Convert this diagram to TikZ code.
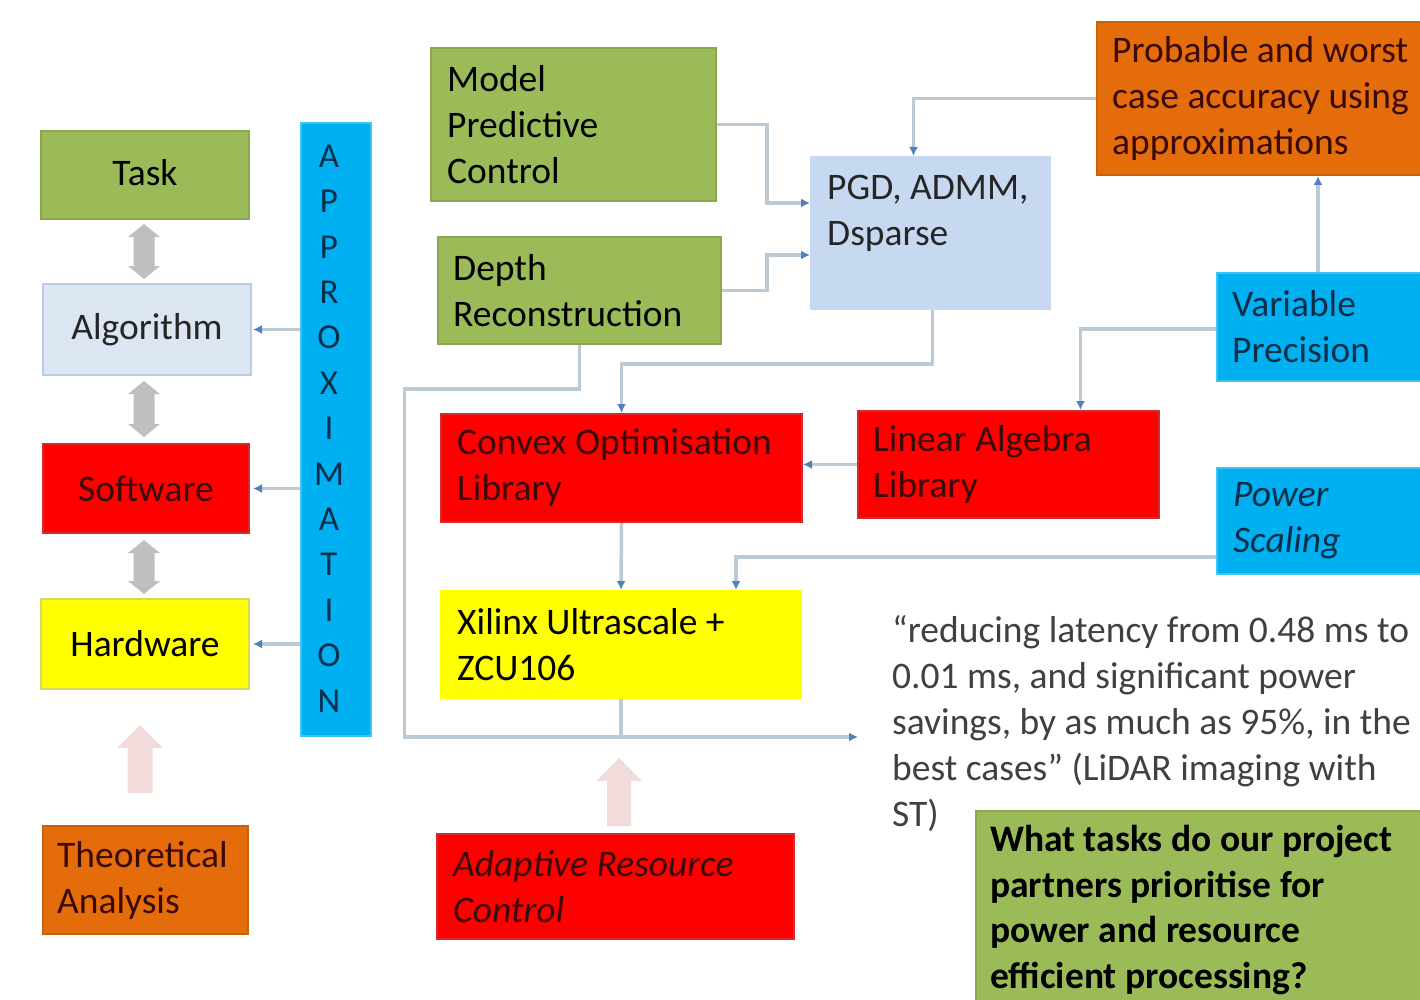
\documentclass[tikz,border=0pt]{standalone}
\usepackage{fontspec}
\setmainfont{Carlito}
\usetikzlibrary{arrows.meta,calc}
\definecolor{cgreen}{HTML}{9BBB59}
\definecolor{cgreenb}{HTML}{8AA653}
\definecolor{calg}{HTML}{DCE6F2}
\definecolor{calgb}{HTML}{B8CCE4}
\definecolor{cpgd}{HTML}{C6D9F1}
\definecolor{cred}{HTML}{FF0000}
\definecolor{credb}{HTML}{D22B2B}
\definecolor{cyel}{HTML}{FFFF00}
\definecolor{cyelb}{HTML}{D6D660}
\definecolor{corange}{HTML}{E46C0A}
\definecolor{corangeb}{HTML}{C9600E}
\definecolor{ccyan}{HTML}{00B0F0}
\definecolor{ccyanb}{HTML}{3FC3F2}
\definecolor{lineclr}{HTML}{BCCAD6}
\definecolor{tipblue}{HTML}{4F81BD}
\definecolor{cgrayarr}{HTML}{BFBFBF}
\definecolor{cpink}{HTML}{F2DCDB}
\definecolor{textgray}{HTML}{404040}
\definecolor{navy}{HTML}{0B2F4A}
\definecolor{darkred}{HTML}{3A0A0A}
\begin{document}
\begin{tikzpicture}[x=1pt,y=-1pt,
  font=\fontsize{37.5}{46}\selectfont,
  box/.style={draw, line width=2pt, inner sep=0pt, anchor=north west},
  txt/.style={inner sep=0pt, align=left, anchor=west},
  conn/.style={draw=lineclr, line width=3.5pt, -{Latex[length=9pt,width=9pt,color=tipblue]}},
  plainline/.style={draw=lineclr, line width=3.5pt}]
\clip (0,0) rectangle (1420,1000);
\fill[white] (0,0) rectangle (1420,1000);

% left column
\node[box, fill=cgreen, draw=cgreenb, minimum width=208pt, minimum height=88pt] (task) at (40,130) {};
\node[inner sep=0pt, yshift=2pt] (task-t) at (task.center) {Task};
\node[box, fill=calg, draw=calgb, minimum width=208pt, minimum height=91pt] (alg) at (42,283) {};
\node[inner sep=0pt, text=black!85] (alg-t) at (alg.center) {Algorithm};
\node[box, fill=cred, draw=credb, minimum width=206pt, minimum height=89pt] (soft) at (42,443) {};
\node[inner sep=0pt, text=darkred] (soft-t) at (soft.center) {Software};
\node[box, fill=cyel, draw=cyelb, minimum width=208pt, minimum height=90pt] (hard) at (40,598) {};
\node[inner sep=0pt] (hard-t) at (hard.center) {Hardware};
\node[box, fill=corange, draw=corangeb, minimum width=205pt, minimum height=108pt] (theo) at (42,825) {};
\node[txt, text=darkred] (theo-t) at ([xshift=15pt]theo.west) {Theoretical\\Analysis};

% gray double arrows
\foreach \ya/\yb in {224/279, 381/437, 540/594}{
  \fill[cgrayarr] (144,\ya) -- (160,{\ya+13}) -- (154.5,{\ya+13}) -- (154.5,{\yb-13}) -- (160,{\yb-13})
    -- (144,\yb) -- (128,{\yb-13}) -- (133.5,{\yb-13}) -- (133.5,{\ya+13}) -- (128,{\ya+13}) -- cycle;
}
% pink up arrows
\fill[cpink] (140,725) -- (163,748) -- (152.5,748) -- (152.5,793) -- (127.5,793) -- (127.5,748) -- (117,748) -- cycle;
\fill[cpink] (619,758) -- (642,781) -- (631,781) -- (631,826) -- (607,826) -- (607,781) -- (596,781) -- cycle;

% approximation bar
\node[box, fill=ccyan, draw=ccyanb, minimum width=70pt, minimum height=613pt] (approx) at (300,122) {};
\node[inner sep=0pt, align=center, text=navy, font=\fontsize{35}{45.4}\selectfont] (approx-t)
  at ([xshift=-7pt,yshift=1pt]approx.center) {A\\P\\P\\R\\O\\X\\I\\M\\A\\T\\I\\O\\N};

% middle / right boxes
\node[box, fill=cgreen, draw=cgreenb, minimum width=285pt, minimum height=153pt] (mpc) at (430,47) {};
\node[txt] (mpc-t) at ([xshift=17pt]mpc.west) {Model\\Predictive\\Control};
\node[box, fill=cgreen, draw=cgreenb, minimum width=283pt, minimum height=107pt] (depth) at (437,236) {};
\node[txt] (depth-t) at ([xshift=16pt]depth.west) {Depth\\Reconstruction};
\node[box, fill=cpgd, draw=cpgd, minimum width=239pt, minimum height=152pt] (pgd) at (810,156) {};
\node[inner sep=0pt, align=left, anchor=base west, text=black!85] (pgd-t) at ([xshift=17pt,yshift=-89pt]pgd.north west) {PGD, ADMM,\\Dsparse};
\node[box, fill=corange, draw=corangeb, minimum width=340pt, minimum height=153pt] (prob) at (1096,21) {};
\node[txt, text=darkred] (prob-t) at ([xshift=16pt]prob.west) {Probable and worst\\case accuracy using\\approximations};
\node[box, fill=ccyan, draw=ccyanb, minimum width=212pt, minimum height=108pt] (var) at (1216,272) {};
\node[txt, text=navy] (var-t) at ([xshift=16pt]var.west) {Variable\\Precision};
\node[box, fill=cred, draw=credb, minimum width=361pt, minimum height=108pt] (convex) at (440,413) {};
\node[txt, text=darkred] (convex-t) at ([xshift=17pt]convex.west) {Convex Optimisation\\Library};
\node[box, fill=cred, draw=credb, minimum width=301pt, minimum height=107pt] (linalg) at (857,410) {};
\node[txt, text=darkred] (linalg-t) at ([xshift=16pt]linalg.west) {Linear Algebra\\Library};
\node[box, fill=ccyan, draw=ccyanb, minimum width=212pt, minimum height=106pt] (power) at (1216,467) {};
\node[txt, text=navy, font=\fontsize{37.5}{46}\selectfont\itshape] (power-t) at ([xshift=17pt]power.west) {Power\\Scaling};
\node[box, fill=cyel, draw=cyel, minimum width=360pt, minimum height=107pt] (xil) at (440,590) {};
\node[txt] (xil-t) at ([xshift=17pt]xil.west) {Xilinx Ultrascale +\\ZCU106};
\node[box, fill=cred, draw=credb, minimum width=357pt, minimum height=105pt] (adapt) at (436,833) {};
\node[txt, text=darkred, font=\fontsize{37.5}{46}\selectfont\itshape] (adapt-t) at ([xshift=17pt]adapt.west) {Adaptive Resource\\Control};
\node[box, fill=cgreen, draw=cgreenb, minimum width=460pt, minimum height=198pt] (quest) at (975,810) {};
\node[txt, font=\fontsize{37.5}{45.5}\selectfont\bfseries] (quest-t) at ([xshift=15pt]quest.west) {What tasks do our project\\partners prioritise for\\power and resource\\efficient processing?};

% quote
\node[txt, text=textgray] (quote) at (892,724) {“reducing latency from 0.48 ms to\\0.01 ms, and significant power\\savings, by as much as 95\%, in the\\best cases” (LiDAR imaging with\\ST)};
\coordinate (qin) at (858,737);

% connectors
\draw[conn] (approx.west |- alg.east) -- ([xshift=1pt]alg.east);
\draw[conn] (approx.west |- soft.east) -- ([xshift=3pt]soft.east);
\draw[conn] (approx.west |- hard.east) -- ([xshift=3pt]hard.east);
\draw[conn] (mpc.east) -- ++(50,0) |- ([yshift=30pt]pgd.west);
\draw[conn] (depth.east) -- ++(45,0) |- ([yshift=-22pt]pgd.west);
\draw[conn] (prob.west) -| ([xshift=-17pt]pgd.north);
\draw[conn] ([xshift=2pt]pgd.south) -- ++(0,54) -| (convex.north);
\draw[conn] (depth.south) -- ++(0,44) -- ++(-175,0) |- (qin);
\draw[plainline] (xil.south) -- (xil.south |- qin);
\draw[conn] ([xshift=-5pt]var.north) -- ([xshift=-5pt]var.north |- prob.south);
\draw[conn] ([yshift=-2pt]var.west) -| ([xshift=72pt]linalg.north);
\draw[conn] (linalg.west) -- (convex.east |- linalg.west);
\draw[conn] (convex.south) -- (xil.north);
\draw[conn] ([yshift=-36pt]power.west) -| ([xshift=115pt]xil.north);
\end{tikzpicture}
\end{document}
